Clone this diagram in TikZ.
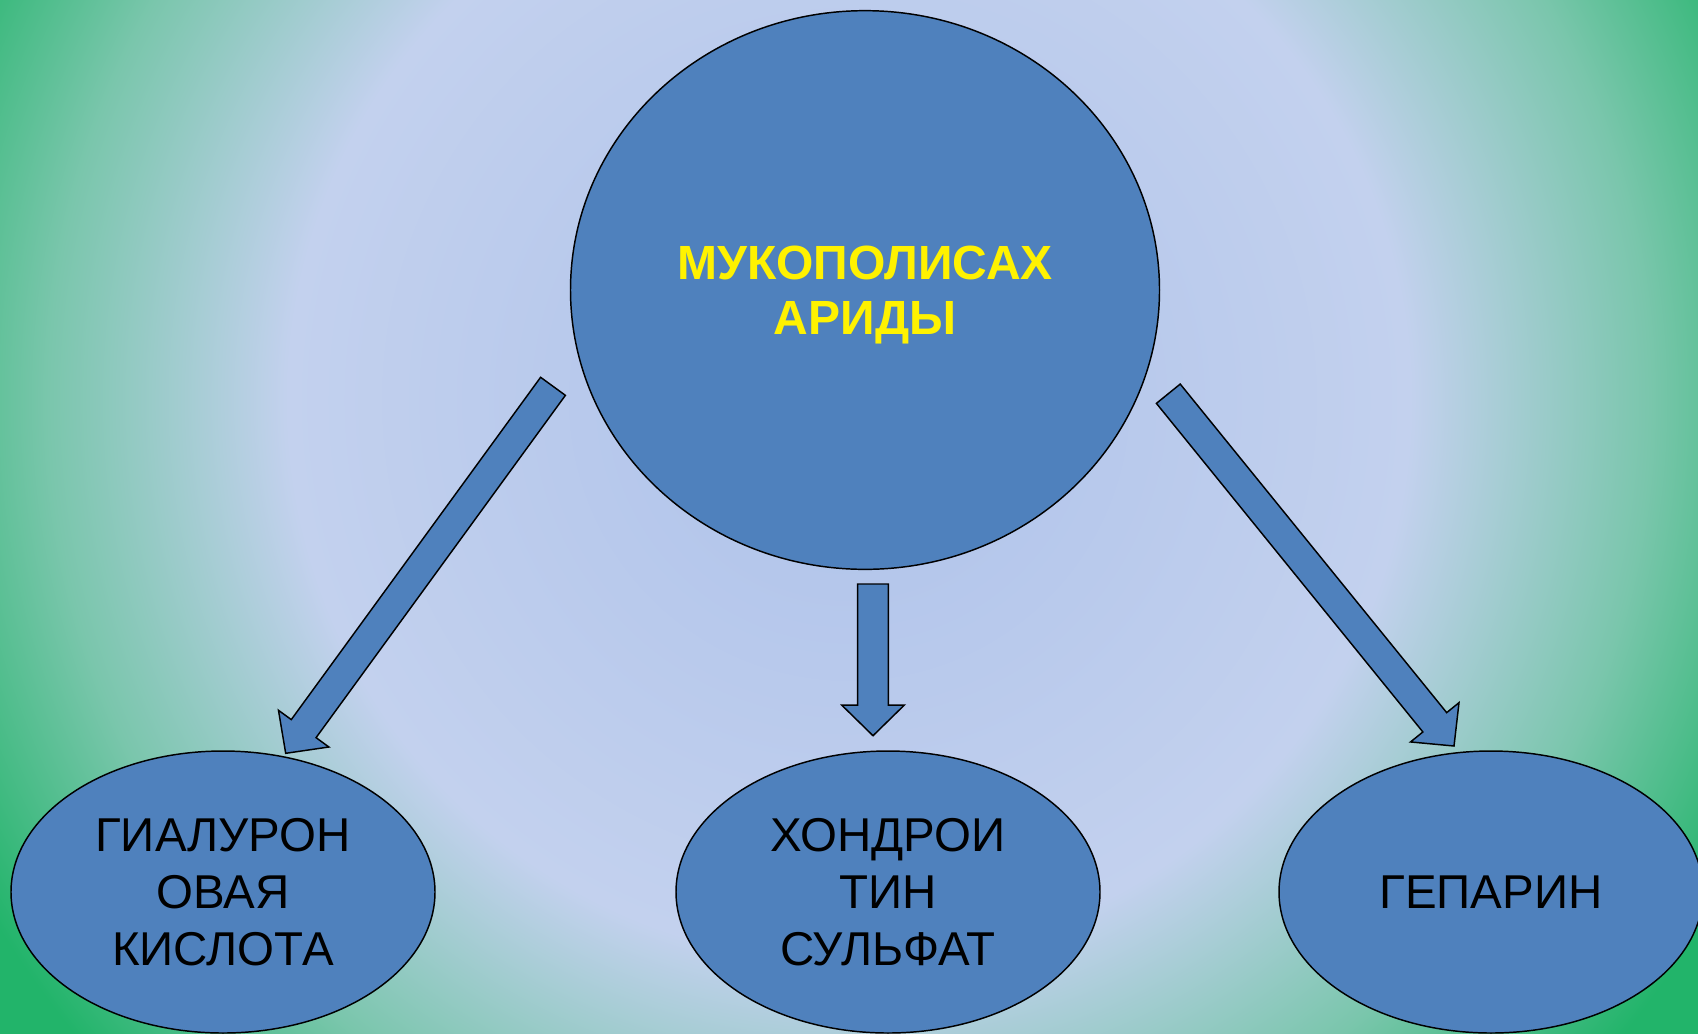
\documentclass[tikz,border=0pt]{standalone}
\usepackage{fontspec}
\setmainfont{Liberation Sans}
\usetikzlibrary{shapes.geometric,calc}

\definecolor{glowcore}{RGB}{174,194,234}
\definecolor{glowring}{RGB}{195,209,238}
\definecolor{glowteal}{RGB}{122,198,172}
\definecolor{glowgreen}{RGB}{34,180,106}
\definecolor{bubbleblue}{RGB}{79,129,189}
\pgfdeclareradialshading{bgglow}{\pgfpoint{0bp}{0bp}}{color(0bp)=(glowcore); color(12.75bp)=(glowring); color(18.2bp)=(glowteal); color(22.75bp)=(glowgreen); color(25bp)=(glowgreen); color(50bp)=(glowgreen)}

\tikzset{
	bubble/.style={ellipse, draw=black, line width=1.1pt, fill=bubbleblue, inner sep=0pt, align=center},
	kind/.style={bubble, minimum width=318pt, minimum height=211.5pt, font=\fontsize{35.6pt}{43pt}\selectfont},
	fatarrow/.style={draw=black, line width=1.1pt, fill=bubbleblue, line join=miter}
}

\newcommand\blockarrow[2]{%
	\coordinate (hb) at ($(#2)!22.9pt!(#1)$);
	\draw[fatarrow] ($(#1)!11.5pt!90:(#2)$) -- ($(hb)!11.5pt!90:(#2)$) -- ($(hb)!23.4pt!90:(#2)$) -- (#2) -- ($(hb)!23.4pt!-90:(#2)$) -- ($(hb)!11.5pt!-90:(#2)$) -- ($(#1)!11.5pt!-90:(#2)$) -- cycle;}

\begin{document}
\begin{tikzpicture}[x=0.75pt,y=0.75pt,yscale=-1,xscale=1]
	\useasboundingbox (0,0) rectangle (1698,1033);
	\begin{scope}
	\clip (0,0) rectangle (1698,1033);
	\shade[shading=bgglow] (849,400) circle (825pt);
	\end{scope}

	\node[bubble, minimum width=441.75pt, minimum height=419pt, text=yellow, font=\bfseries\fontsize{36pt}{41pt}\selectfont] (muco) at (865,290) {\rule{0pt}{33pt}МУКОПОЛИСАХ\\АРИДЫ};
	\node[kind] (hyal) at (223,892) {ГИАЛУРОН\\ОВАЯ\\КИСЛОТА};
	\node[kind] (chond) at (888,892) {ХОНДРОИ\\ТИН\\СУЛЬФАТ};
	\node[kind] (hep) at (1491,892) {ГЕПАРИН};

	\coordinate (hyalfrom) at (553,386.3);
	\coordinate (hyalto) at (285.7,753.3);
	\coordinate (chondfrom) at (873,584);
	\coordinate (chondto) at (873,735.7);
	\coordinate (hepfrom) at (1168.3,393.7);
	\coordinate (hepto) at (1454,746);

	\blockarrow{hyalfrom}{hyalto}
	\blockarrow{chondfrom}{chondto}
	\blockarrow{hepfrom}{hepto}
\end{tikzpicture}
\end{document}
